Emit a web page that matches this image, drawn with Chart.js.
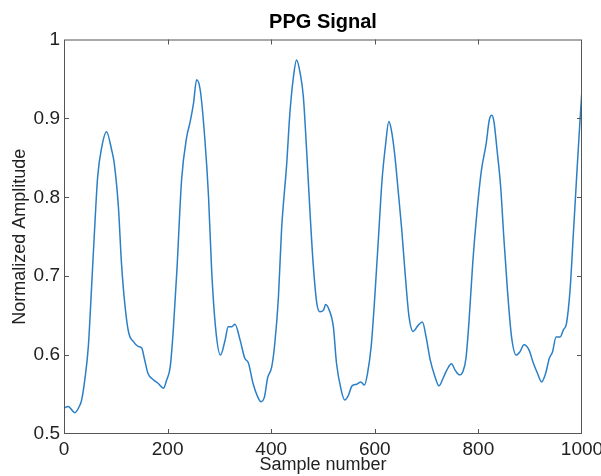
<!DOCTYPE html>
<html>
<head>
<meta charset="utf-8">
<script src="https://cdn.jsdelivr.net/npm/chart.js@4"></script>
<style>
  html, body { margin: 0; padding: 0; background: #fff; }
  #wrap { width: 601px; height: 476px; position: relative; }
</style>
</head>
<body>
<div id="wrap"><canvas id="ppgChart"></canvas></div>
<script>
// sample index / normalized amplitude
const sampleIdx = [0, 8, 21, 31, 34, 40, 47, 53, 60, 65, 73, 82, 92, 97, 105, 111, 118, 125, 134, 143,
  150, 155, 162, 172, 182, 192, 198, 205, 211, 218, 227, 237, 243, 250, 256, 263, 272, 279, 285, 293,
  302, 311, 317, 324, 330, 340, 349, 356, 365, 374, 380, 387, 393, 401, 407, 414, 420, 430, 436, 443,
  449, 456, 462, 468, 475, 481, 488, 494, 501, 505, 512, 520, 526, 535, 542, 549, 556, 565, 573, 580,
  586, 593, 600, 608, 614, 621, 627, 632, 639, 645, 652, 658, 666, 674, 684, 692, 699, 707, 716, 724,
  732, 739, 748, 755, 763, 770, 776, 782, 789, 797, 806, 815, 821, 826, 830, 836, 843, 849, 856, 864,
  873, 880, 888, 898, 906, 914, 922, 929, 937, 943, 950, 958, 964, 970, 977, 983, 990, 995, 1000];
const amplitude = [0.533, 0.535, 0.527, 0.537, 0.543, 0.568, 0.611, 0.683, 0.771, 0.826, 0.864, 0.883, 0.860, 0.843, 0.788, 0.716, 0.661, 0.628, 0.617, 0.611,
  0.609, 0.596, 0.577, 0.569, 0.564, 0.558, 0.568, 0.585, 0.632, 0.708, 0.822, 0.877, 0.894, 0.919, 0.949, 0.936, 0.873, 0.801, 0.708, 0.632,
  0.600, 0.619, 0.636, 0.636, 0.639, 0.619, 0.596, 0.590, 0.564, 0.547, 0.541, 0.547, 0.571, 0.585, 0.615, 0.674, 0.759, 0.843, 0.906, 0.953,
  0.974, 0.957, 0.928, 0.864, 0.780, 0.716, 0.666, 0.655, 0.657, 0.664, 0.657, 0.636, 0.590, 0.556, 0.543, 0.549, 0.561, 0.563, 0.566, 0.562,
  0.577, 0.611, 0.674, 0.759, 0.822, 0.868, 0.896, 0.885, 0.851, 0.809, 0.759, 0.708, 0.649, 0.630, 0.638, 0.642, 0.623, 0.594, 0.573, 0.561,
  0.571, 0.581, 0.589, 0.581, 0.575, 0.579, 0.596, 0.644, 0.716, 0.780, 0.835, 0.868, 0.898, 0.904, 0.896, 0.860, 0.813, 0.750, 0.683, 0.623,
  0.600, 0.604, 0.613, 0.606, 0.590, 0.577, 0.566, 0.575, 0.596, 0.604, 0.623, 0.623, 0.632, 0.640, 0.683, 0.750, 0.830, 0.885, 0.937];

const xTicks = [0, 200, 400, 600, 800, 1000];
const yTicks = [0.5, 0.6, 0.7, 0.8, 0.9, 1];
const yTickLabels = ["0.5", "0.6", "0.7", "0.8", "0.9", "1"];

const FONT = "'Liberation Sans', Arial, Helvetica, sans-serif";
const AXIS = "#555";

// MATLAB-like box with inward tick marks on all four sides
const boxPlugin = {
  id: "matlabBox",
  afterDraw(chart) {
    const { ctx, chartArea: a, scales } = chart;
    ctx.save();
    ctx.strokeStyle = AXIS;
    ctx.lineWidth = 1;
    ctx.strokeRect(a.left + 0.5, a.top + 0.5, a.right - a.left - 1, a.bottom - a.top - 1);
    ctx.beginPath();
    const len = 5;
    xTicks.slice(1, -1).forEach((v) => {
      const px = Math.round(scales.x.getPixelForValue(v)) + 0.5;
      ctx.moveTo(px, a.bottom); ctx.lineTo(px, a.bottom - len);
      ctx.moveTo(px, a.top); ctx.lineTo(px, a.top + len);
    });
    yTicks.slice(1, -1).forEach((v) => {
      const py = Math.round(scales.y.getPixelForValue(v)) + 0.5;
      ctx.moveTo(a.left, py); ctx.lineTo(a.left + len, py);
      ctx.moveTo(a.right, py); ctx.lineTo(a.right - len, py);
    });
    ctx.stroke();
    ctx.restore();
  },
};

const ctx = document.getElementById("ppgChart").getContext("2d");
const ppgChart = new Chart(ctx, {
  type: "line",
  data: {
    datasets: [
      {
        label: "PPG",
        data: sampleIdx.map((s, i) => ({ x: s, y: amplitude[i] })),
        borderColor: "#2a7fc7",
        borderWidth: 1.5,
        pointRadius: 0,
        fill: false,
        cubicInterpolationMode: "monotone",
      },
    ],
  },
  options: {
    responsive: true,
    maintainAspectRatio: false,
    animation: false,
    layout: { padding: { left: 0, right: 0, top: 0, bottom: 0 } },
    plugins: {
      legend: { display: false },
      tooltip: { enabled: false },
      title: {
        display: true,
        text: "PPG Signal",
        fullSize: false,
        color: "#000",
        font: { family: FONT, size: 20, weight: "bold" },
        padding: { top: 10, bottom: 5.5 },
      },
    },
    scales: {
      x: {
        type: "linear",
        min: 0,
        max: 1000,
        afterBuildTicks: (scale) => { scale.ticks = xTicks.map((v) => ({ value: v })); },
        afterFit: (scale) => {
          scale.height = 42;
          scale.paddingLeft = 0;
          scale.paddingRight = 19;
        },
        grid: { display: false, drawTicks: false },
        border: { display: false },
        ticks: {
          color: "#222",
          padding: 4,
          maxRotation: 0,
          font: { family: FONT, size: 19 },
          callback: (value) => String(value),
        },
        title: {
          display: true,
          text: "Sample number",
          color: "#222",
          font: { family: FONT, size: 18 },
          padding: { top: 0, bottom: 0 },
        },
      },
      y: {
        type: "linear",
        min: 0.5,
        max: 1,
        afterBuildTicks: (scale) => { scale.ticks = yTicks.map((v) => ({ value: v })); },
        afterFit: (scale) => { scale.width = 64; },
        grid: { display: false, drawTicks: false },
        border: { display: false },
        ticks: {
          color: "#222",
          padding: 4,
          font: { family: FONT, size: 19 },
          callback: (value) => {
            const i = yTicks.findIndex((t) => Math.abs(t - value) < 1e-9);
            return i >= 0 ? yTickLabels[i] : "";
          },
        },
        title: {
          display: true,
          text: "Normalized Amplitude",
          color: "#222",
          font: { family: FONT, size: 18 },
          padding: { top: 9, bottom: 0 },
        },
      },
    },
  },
  plugins: [boxPlugin],
});
</script>
</body>
</html>
